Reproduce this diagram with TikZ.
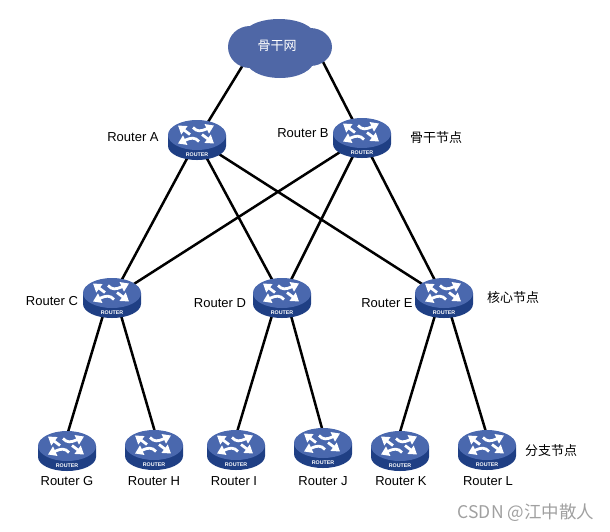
\documentclass[tikz,border=0pt]{standalone}
\usepackage{fontspec}
\setmainfont{Liberation Sans}
\newfontfamily\cjk{Noto Sans CJK SC}
\usetikzlibrary{arrows.meta}
\definecolor{rtop}{HTML}{4A68AE}
\definecolor{rside}{HTML}{1F3F84}
\definecolor{cloudc}{HTML}{4F67A6}
\definecolor{wm}{HTML}{A0A0A0}
\tikzset{
  x=1pt,y=-1pt,
  hub/.style={inner sep=0pt,minimum size=0pt},
  link/.style={draw=black,line width=2.5pt},
  rlabel/.style={font=\fontsize{13}{15}\selectfont,text=black,inner sep=0pt},
  tierlabel/.style={font=\fontsize{13}{15}\cjk,text=black,inner sep=0pt},
  icon/.style={draw=white,line width=2.8pt,-{Triangle[width=10pt,length=8pt]}},
  pics/router/.style={code={
    \fill[rside] (-29,-5) -- (-29,6) arc[start angle=180,end angle=0,x radius=29,y radius=14] -- (29,-5) -- cycle;
    \fill[rtop] (0,-5) ellipse[x radius=29,y radius=15];
    \begin{scope}[shift={(-1,-5.5)}]
    \draw[icon] (-6,0) -- (-18,-9);
    \draw[icon] (6,0) -- (18,9);
    \draw[icon] (-3,-7) .. controls (1,-2.5) and (5,-3) .. (18,-9);
    \draw[icon] (3,7) .. controls (-1,2.5) and (-5,3) .. (-18,9);
    \end{scope}
    \node[font=\bfseries\fontsize{5.3}{6}\selectfont,text=white,inner sep=0pt] at (0,14.5) {ROUTER};
  }}
}
\begin{document}
\begin{tikzpicture}
\useasboundingbox (0,0) rectangle (610,531);
\node[hub] (cloud) at (280,46) {};
\node[hub] (a) at (197,140) {};
\node[hub] (b) at (362,138) {};
\node[hub] (c) at (112,298) {};
\node[hub] (d) at (282,298) {};
\node[hub] (e) at (444,298) {};
\node[hub] (g) at (67,451) {};
\node[hub] (h) at (154,450) {};
\node[hub] (i) at (236,450) {};
\node[hub] (j) at (323,448) {};
\node[hub] (k) at (400,451) {};
\node[hub] (l) at (487,450) {};
\coordinate (cl) at (246,60);
\coordinate (cr) at (322,60);
\coordinate (cg) at (104,312);
\coordinate (ch) at (120,312);
\coordinate (di) at (273,312);
\coordinate (dj) at (290,312);
\coordinate (ek) at (436,312);
\coordinate (el) at (450,312);
\coordinate (gt) at (68,432);
\coordinate (ht) at (155,432);
\coordinate (it) at (237,432);
\coordinate (jt) at (323,432);
\coordinate (kt) at (400,432);
\coordinate (lt) at (486,432);
\draw[link] (cl) -- (a);
\draw[link] (cr) -- (b);
\foreach \s/\t in {a/c,a/d,a/e,b/c,b/d,b/e,cg/gt,ch/ht,di/it,dj/jt,ek/kt,el/lt}
  \draw[link] (\s) -- (\t);
\fill[cloudc] (279,36) ellipse[x radius=36,y radius=17];
\fill[cloudc] (250,47) ellipse[x radius=22,y radius=21];
\fill[cloudc] (310,47) ellipse[x radius=22,y radius=19];
\fill[cloudc] (280,60) ellipse[x radius=34,y radius=18];
\node[font=\fontsize{13}{15}\cjk,text=white,inner sep=0pt] at (277,46) {骨干网};
\foreach \n in {a,b,c,d,e,g,h,i,j,k,l}
  \pic at (\n) {router};
\node[rlabel] (la) at (133,137) {Router A};
\node[rlabel] (lb) at (303,133) {Router B};
\node[rlabel] (lc) at (52,301) {Router C};
\node[rlabel] (ld) at (220,303) {Router D};
\node[rlabel] (le) at (387,303) {Router E};
\node[rlabel] (lg) at (67,481) {Router G};
\node[rlabel] (lh) at (154,481) {Router H};
\node[rlabel] (li) at (234,481) {Router I};
\node[rlabel] (lj) at (323,481) {Router J};
\node[rlabel] (lk) at (401,481) {Router K};
\node[rlabel] (ll) at (488,481) {Router L};
\node[tierlabel] (t1) at (436,138) {骨干节点};
\node[tierlabel] (t2) at (513,298) {核心节点};
\node[tierlabel] (t3) at (551,451) {分支节点};
\node[font=\fontsize{17.5}{20}\selectfont\cjk,text=wm,inner sep=0pt] (wmk) at (526,513) {CSDN @江中散人};
\end{tikzpicture}
\end{document}
